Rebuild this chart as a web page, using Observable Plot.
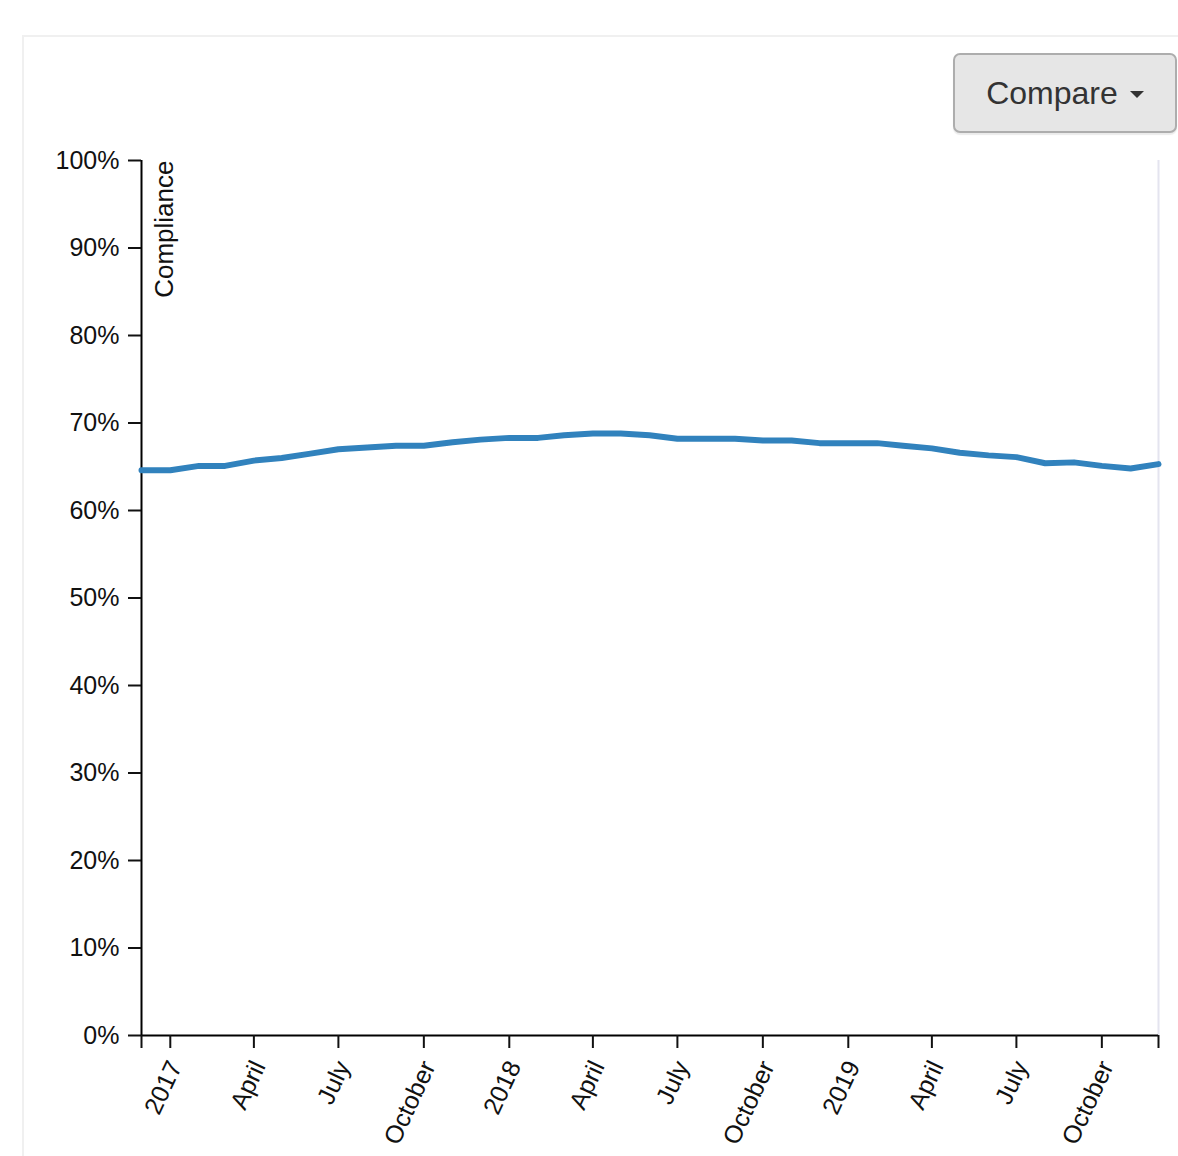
<!DOCTYPE html>
<html><head><meta charset="utf-8">
<script src="https://cdn.jsdelivr.net/npm/d3@7"></script>
<script src="https://cdn.jsdelivr.net/npm/@observablehq/plot@0.6"></script>
<style>
body{margin:0;background:#fff;font-family:"Liberation Sans",Arial,sans-serif;overflow:hidden;}
#card{position:absolute;left:22px;top:35px;width:1200px;height:1200px;border-left:2px solid #f0f0f0;border-top:2px solid #f0f0f0;}
#chart{position:absolute;left:0;top:0;}
#btn{position:absolute;left:953px;top:53px;width:224px;height:80px;box-sizing:border-box;background:#e6e6e6;border:2px solid #adadad;border-radius:7px;box-shadow:0 2px 1px rgba(0,0,0,.08);font-size:32px;color:#333;display:flex;align-items:center;justify-content:center;}
#caret{display:inline-block;width:0;height:0;border-top:7px solid #333;border-left:7px solid transparent;border-right:7px solid transparent;margin-left:12px;margin-top:2px;}
</style></head>
<body>
<div id="card"></div>
<div id="chart"></div>
<div id="btn"><span>Compare</span><span id="caret"></span></div>
<script>
const months = ["2016-12-01","2017-01-01","2017-02-01","2017-03-01","2017-04-01","2017-05-01","2017-06-01","2017-07-01","2017-08-01","2017-09-01","2017-10-01","2017-11-01","2017-12-01",
"2018-01-01","2018-02-01","2018-03-01","2018-04-01","2018-05-01","2018-06-01","2018-07-01","2018-08-01","2018-09-01","2018-10-01","2018-11-01","2018-12-01",
"2019-01-01","2019-02-01","2019-03-01","2019-04-01","2019-05-01","2019-06-01","2019-07-01","2019-08-01","2019-09-01","2019-10-01","2019-11-01","2019-12-01"];
const compliance = [64.6,64.6,65.1,65.1,65.7,66.0,66.5,67.0,67.2,67.4,67.4,67.8,68.1,
68.3,68.3,68.6,68.8,68.8,68.6,68.2,68.2,68.2,68.0,68.0,67.7,
67.7,67.7,67.4,67.1,66.6,66.3,66.1,65.4,65.5,65.1,64.8,65.3];
const yTicks = [0,10,20,30,40,50,60,70,80,90,100];
const xTicks = ["2016-12-01","2017-01-01","2017-04-01","2017-07-01","2017-10-01","2018-01-01","2018-04-01","2018-07-01","2018-10-01","2019-01-01","2019-04-01","2019-07-01","2019-10-01","2019-12-01"];
const monthNames = ["January","February","March","April","May","June","July","August","September","October","November","December"];
const xDomain = [new Date(months[0]), new Date(months[months.length-1])];
const data = months.map((m,i)=>({date:new Date(m), value:compliance[i]}));
const tickDates = xTicks.map(d=>new Date(d));
const fmtX = d => {
  if (+d === +xDomain[0] || +d === +xDomain[1]) return "";
  return d.getUTCMonth() === 0 ? String(d.getUTCFullYear()) : monthNames[d.getUTCMonth()];
};
const chart = Plot.plot({
  width:1178, height:1156,
  marginLeft:141, marginRight:20, marginTop:160, marginBottom:121,
  style:{background:"transparent", fontFamily:"Liberation Sans, Arial, sans-serif", fontSize:"25px", color:"#111"},
  x:{type:"utc", domain:xDomain},
  y:{domain:[0,100]},
  marks:[
    Plot.ruleX([xDomain[1]], {stroke:"#e4e4ef", strokeWidth:2}),
    Plot.ruleX([xDomain[0]], {stroke:"#000", strokeWidth:2}),
    Plot.ruleY([0], {stroke:"#000", strokeWidth:2}),
    Plot.axisY({ticks:yTicks, tickFormat:d=>d+"%", tickSize:13, tickPadding:9, label:null, strokeWidth:2}),
    Plot.axisX({ticks:tickDates, tickSize:13, tickFormat:()=>"", label:null, strokeWidth:2}),
    Plot.axisX({ticks:tickDates, tickFormat:fmtX, tickSize:0, tickPadding:27, tickRotate:-65, dx:5, label:null}),
    Plot.lineY(data, {x:"date", y:"value", stroke:"#3182bd", strokeWidth:6}),
    Plot.text(["Compliance"], {text:d=>d, frameAnchor:"top-left", rotate:-90, textAnchor:"end", lineAnchor:"top", dx:13, fontSize:26})
  ]
});
document.getElementById("chart").appendChild(chart);
</script>
</body></html>
